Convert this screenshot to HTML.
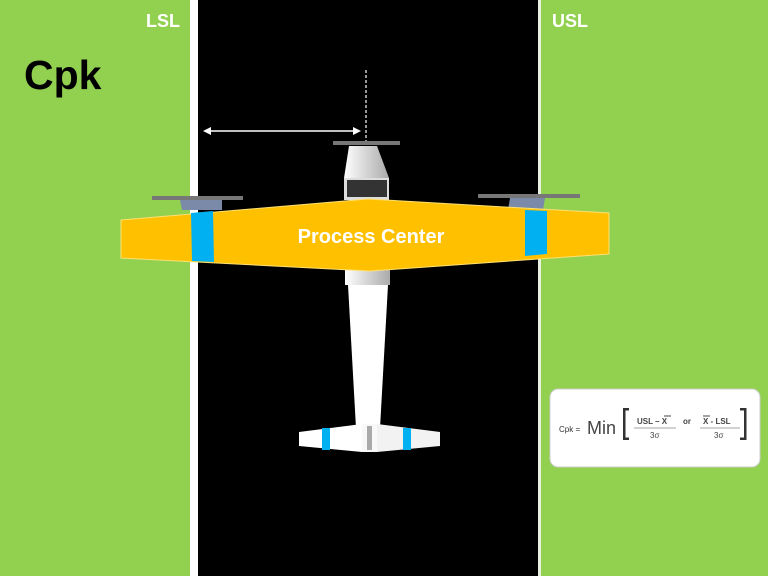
<!DOCTYPE html>
<html><head><meta charset="utf-8"><style>
body{margin:0;width:768px;height:576px;overflow:hidden;background:#92d050;font-family:"Liberation Sans",sans-serif}
</style></head><body>
<svg width="768" height="576" viewBox="0 0 768 576" style="position:absolute;left:0;top:0">
<rect x="0" y="0" width="768" height="576" fill="#92d050"/>
<rect x="190" y="0" width="8" height="576" fill="#fff"/>
<rect x="198" y="0" width="340" height="576" fill="#000"/>
<rect x="538" y="0" width="3" height="576" fill="#e8f0e0"/>
<text x="146" y="27" font-family="Liberation Sans" font-weight="bold" font-size="18" fill="#fff">LSL</text>
<text x="552" y="27" font-family="Liberation Sans" font-weight="bold" font-size="18" fill="#fff">USL</text>
<text x="24" y="89" font-family="Liberation Sans" font-weight="bold" font-size="41" fill="#000">Cpk</text>
<line x1="366" y1="70" x2="366" y2="143" stroke="#999" stroke-width="2" stroke-dasharray="3,2"/>
<line x1="206" y1="131" x2="356" y2="131" stroke="#fff" stroke-width="1.5"/>
<polygon points="203,131 211,127 211,135" fill="#fff"/>
<polygon points="361,131 353,127 353,135" fill="#fff"/>
<defs><linearGradient id="g" x1="0" x2="1"><stop offset="0" stop-color="#fff"/><stop offset="1" stop-color="#aaa"/></linearGradient></defs>
<rect x="333" y="141" width="67" height="4" fill="#777"/>
<polygon points="349,146 377,146 389,178 344,178" fill="url(#g)"/>
<rect x="344" y="178" width="45" height="22" fill="#ddd"/>
<rect x="347" y="180" width="40" height="17" fill="#333"/>
<rect x="152" y="196" width="91" height="4" fill="#777"/>
<polygon points="180,200 222,200 222,210 182,210" fill="#7a8aa8"/>
<rect x="478" y="194" width="102" height="4" fill="#777"/>
<polygon points="510,198 545,198 543,210 508,210" fill="#7a8aa8"/>
<rect x="345" y="268" width="45" height="17" fill="url(#g)"/>
<polygon points="348,285 388,285 380,428 356,428" fill="#fff"/>
<polygon points="299,432 362,424 362,452 299,446" fill="#fff"/>
<polygon points="377,424 440,432 440,446 377,452" fill="#f2f2f2"/>
<rect x="362" y="424" width="15" height="28" fill="#f8f8f8"/>
<rect x="367" y="426" width="5" height="24" fill="#aaa"/>
<rect x="322" y="428" width="8" height="22" fill="#00b0f0"/>
<rect x="403" y="428" width="8" height="22" fill="#00b0f0"/>
<polygon points="121,220 368,199 609,213 609,254 370,271 121,258" fill="#ffc000" stroke="#ffe070" stroke-width="1"/>
<polygon points="191,213 213,211 214,262 192,261" fill="#00b0f0"/>
<polygon points="525,210 547,211 547,254 525,256" fill="#00b0f0"/>
<text x="371" y="243" text-anchor="middle" font-family="Liberation Sans" font-weight="bold" font-size="20" fill="#fff">Process Center</text>
<rect x="550" y="389" width="210" height="78" rx="8" fill="#fff" stroke="#ccc"/>
<text x="559" y="432" font-family="Liberation Sans" font-size="8" fill="#333">Cpk =</text>
<text x="587" y="434" font-family="Liberation Sans" font-size="18" fill="#444">Min</text>
<rect x="623" y="408" width="2.5" height="32" fill="#333"/><rect x="623" y="408" width="6" height="2.5" fill="#333"/><rect x="623" y="437.5" width="6" height="2.5" fill="#333"/>
<rect x="744" y="408" width="2.5" height="32" fill="#333"/><rect x="740" y="408" width="6" height="2.5" fill="#333"/><rect x="740" y="437.5" width="6" height="2.5" fill="#333"/>
<text x="637" y="424" font-family="Liberation Sans" font-weight="bold" font-size="8" fill="#444">USL – X</text>
<line x1="664" y1="416" x2="671" y2="416" stroke="#444"/>
<line x1="634" y1="428" x2="676" y2="428" stroke="#888" stroke-width="0.7"/>
<text x="650" y="438" font-family="Liberation Sans" font-size="8" fill="#444">3σ</text>
<text x="683" y="424" font-family="Liberation Sans" font-weight="bold" font-size="8" fill="#444">or</text>
<text x="703" y="424" font-family="Liberation Sans" font-weight="bold" font-size="8" fill="#444">X - LSL</text>
<line x1="703" y1="416" x2="710" y2="416" stroke="#444"/>
<line x1="700" y1="428" x2="740" y2="428" stroke="#888" stroke-width="0.7"/>
<text x="714" y="438" font-family="Liberation Sans" font-size="8" fill="#444">3σ</text>
</svg>
</body></html>
